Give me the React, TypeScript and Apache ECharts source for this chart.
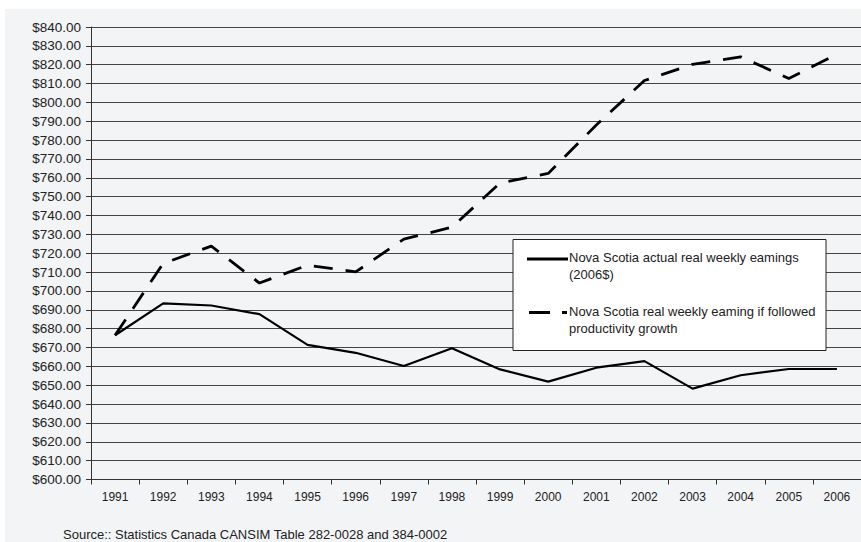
import React, { useEffect, useRef } from "react";
import * as echarts from "echarts";

const years = ["1991","1992","1993","1994","1995","1996","1997","1998","1999","2000","2001","2002","2003","2004","2005","2006"];
const actualEarnings = [676.5, 693.4, 692.3, 687.7, 671.4, 667.2, 660.2, 669.6, 658.4, 651.9, 659.3, 662.8, 648.2, 655.3, 658.6, 658.6];
const productivityEarnings = [676.5, 714.6, 723.8, 704.2, 713.7, 710.1, 727.5, 733.8, 757.3, 762.3, 788.0, 811.6, 820.2, 824.2, 812.7, 825.6];
const yMin = 600;
const yMax = 840;
const yStep = 10;
const legendActual = ["Nova Scotia actual real weekly eamings", "(2006$)"];
const legendProductivity = ["Nova Scotia real weekly eaming if followed", "productivity growth"];
const sourceText = "Source:: Statistics Canada CANSIM Table 282-0028 and 384-0002";

const FONT = "'Liberation Sans', Arial, sans-serif";

export default function App() {
  const ref = useRef<HTMLDivElement>(null);
  useEffect(() => {
    document.body.style.margin = "0";
    if (!ref.current) return;
    const chart = echarts.init(ref.current, null, { renderer: "svg" });
    const textStyle = (x: number, y: number, t: string) => ({
      type: "text",
      left: x,
      top: y,
      style: { text: t, font: `13px ${FONT}`, fill: "#222" },
    });
    chart.setOption({
      animation: false,
      backgroundColor: "transparent",
      grid: { left: 91, top: 27, width: 773, height: 452.5, containLabel: false },
      xAxis: {
        type: "category",
        data: years,
        boundaryGap: true,
        axisLine: { show: true, lineStyle: { color: "#333", width: 1 } },
        axisTick: { show: true, length: 5, interval: 0, lineStyle: { color: "#333" } },
        axisLabel: { interval: 0, margin: 11, color: "#222", fontFamily: FONT, fontSize: 12 },
        splitLine: { show: false },
      },
      yAxis: {
        type: "value",
        min: yMin,
        max: yMax,
        interval: yStep,
        axisLine: { show: true, lineStyle: { color: "#333", width: 1 } },
        axisTick: { show: true, length: 5, lineStyle: { color: "#333" } },
        axisLabel: {
          margin: 10,
          color: "#222",
          fontFamily: FONT,
          fontSize: 13.5,
          formatter: (v: number) => "$" + v.toFixed(2),
        },
        splitLine: { show: true, lineStyle: { color: "#444", width: 1 } },
      },
      series: [
        {
          name: legendActual.join(" "),
          type: "line",
          data: actualEarnings,
          symbol: "none",
          lineStyle: { color: "#000", width: 2.2 },
          z: 3,
        },
        {
          name: legendProductivity.join(" "),
          type: "line",
          data: productivityEarnings,
          symbol: "none",
          lineStyle: { color: "#000", width: 2.8, type: [19, 13] },
          z: 3,
        },
      ],
      graphic: [
        {
          type: "rect",
          shape: { x: 513, y: 239.5, width: 313, height: 111 },
          style: { fill: "#fff", stroke: "#222", lineWidth: 1 },
          z: 10,
        },
        {
          type: "line",
          shape: { x1: 527, y1: 259, x2: 568, y2: 259 },
          style: { stroke: "#000", lineWidth: 3 },
          z: 11,
        },
        {
          type: "line",
          shape: { x1: 529, y1: 312.5, x2: 567, y2: 312.5 },
          style: { stroke: "#000", lineWidth: 3, lineDash: [21, 12] },
          z: 11,
        },
        { ...textStyle(569, 250.5, legendActual[0]), z: 11 },
        { ...textStyle(569, 267.5, legendActual[1]), z: 11 },
        { ...textStyle(569, 304.5, legendProductivity[0]), z: 11 },
        { ...textStyle(569, 321.5, legendProductivity[1]), z: 11 },
        { ...textStyle(63, 528, sourceText), z: 11 },
      ],
    });
    return () => chart.dispose();
  }, []);
  return (
    <div style={{ position: "relative", width: 861, height: 542, background: "#fff", overflow: "hidden" }}>
      <div style={{ position: "absolute", left: 5, top: 9, right: 0, bottom: 0, background: "#f3f4f6" }} />
      <div ref={ref} style={{ position: "absolute", left: 0, top: 0, width: 861, height: 542 }} />
    </div>
  );
}
